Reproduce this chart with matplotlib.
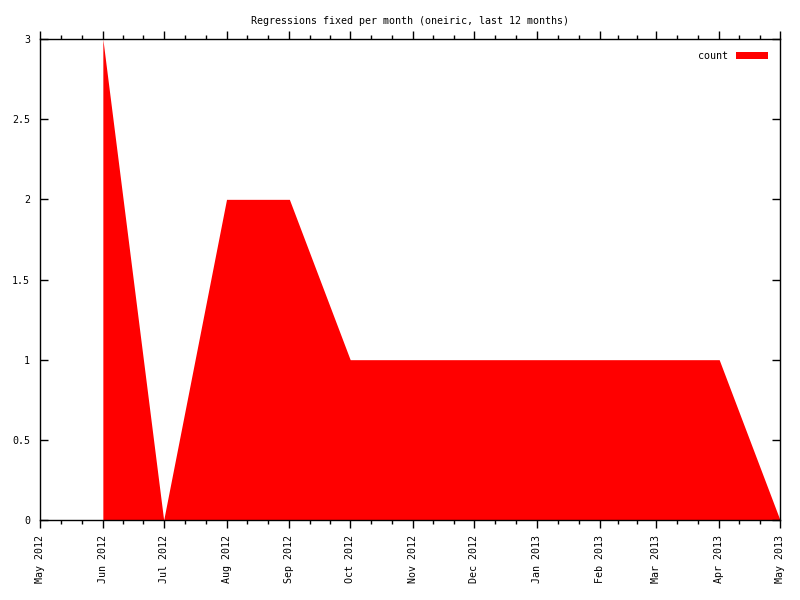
import datetime as dt
import matplotlib
matplotlib.use("Agg")
from matplotlib import pyplot as plt
import matplotlib.dates as mdates

# data
months = ["2012-06-01", "2012-07-01", "2012-08-01", "2012-09-01", "2012-10-01",
          "2012-11-01", "2012-12-01", "2013-01-01", "2013-02-01", "2013-03-01",
          "2013-04-01", "2013-05-01"]
counts = [3, 0, 2, 2, 1, 1, 1, 1, 1, 1, 1, 0]
x_start = "2012-05-01"
x_end = "2013-05-01"
y_ticks = [0, 0.5, 1, 1.5, 2, 2.5, 3]
title = "Regressions fixed per month (oneiric, last 12 months)"

font = "DejaVu Sans Mono"
plt.rcParams["font.family"] = font
plt.rcParams["font.size"] = 7.2

dates = [dt.datetime.strptime(m, "%Y-%m-%d") for m in months]
x0 = dt.datetime.strptime(x_start, "%Y-%m-%d")
x1 = dt.datetime.strptime(x_end, "%Y-%m-%d")

fig = plt.figure(figsize=(8, 6), dpi=100)
ax = fig.add_axes([0.05, 0.1333, 0.925, 0.8017])

ax.fill_between(dates, counts, 0, color="#ff0000", linewidth=0, label="count")

ax.set_xlim(x0, x1)
ax.set_ylim(0, 3)

# month ticks with two minor ticks in between
major = [x0]
while major[-1] < x1:
    d = major[-1]
    major.append(dt.datetime(d.year + (d.month // 12), d.month % 12 + 1, 1))
minor = []
for a, b in zip(major[:-1], major[1:]):
    step = (b - a) / 3
    minor += [a + step, a + 2 * step]

ax.set_xticks(major)
ax.set_xticks(minor, minor=True)
ax.xaxis.set_major_formatter(mdates.DateFormatter("%b %Y"))
ax.set_yticks(y_ticks)
ax.set_yticklabels(["0", "0.5", "1", "1.5", "2", "2.5", "3"])

ax.tick_params(axis="x", which="major", direction="out", length=6, width=1,
               top=True, bottom=True, labelrotation=90, pad=5)
ax.tick_params(axis="x", which="minor", direction="out", length=3, width=1,
               top=True, bottom=True)
ax.tick_params(axis="y", which="major", direction="in", length=6, width=1,
               left=True, right=True, pad=7)
for lbl in ax.get_xticklabels():
    lbl.set_va("top")
    lbl.set_ha("center")

for s in ax.spines.values():
    s.set_linewidth(1)
    s.set_color("black")

ax.set_title(title, fontsize=7.2, pad=11)

leg = ax.legend(loc="upper right", frameon=False, markerfirst=False,
                handlelength=3.2, handleheight=0.6, borderaxespad=0.8,
                handletextpad=0.8, fontsize=7.2)

fig.savefig("out.png", dpi=100)
